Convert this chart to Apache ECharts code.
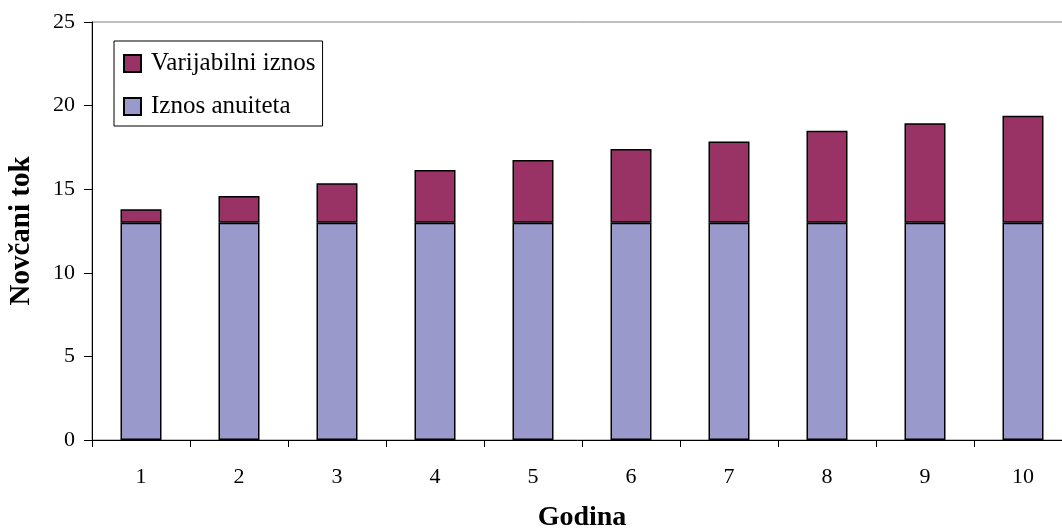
<!DOCTYPE html>
<html><head><meta charset="utf-8">
<script src="https://cdn.jsdelivr.net/npm/echarts@6/dist/echarts.min.js"></script>
<style>html,body{margin:0;padding:0;background:#fff}#c{width:1062px;height:531px}</style>
</head><body><div id="c"></div>
<script>
const years = ['1','2','3','4','5','6','7','8','9','10'];
const annuity = [13,13,13,13,13,13,13,13,13,13];
const variableAmt = [0.8,1.6,2.35,3.15,3.75,4.4,4.85,5.5,5.95,6.4];
const seriesNames = ['Varijabilni iznos','Iznos anuiteta'];
const yTicks = {min:0, max:25, interval:5};

const font = 'Liberation Serif, Times New Roman, serif';
const chart = echarts.init(document.getElementById('c'));
chart.setOption({
  animation:false,
  backgroundColor:'#fff',
  grid:{left:92, right:-10, top:22, bottom:91, outerBoundsMode:'none', containLabel:false,
        show:true, borderColor:'#808080', borderWidth:1, backgroundColor:'transparent'},
  legend:{
    data:[seriesNames[0], seriesNames[1]],
    orient:'vertical', left:114, top:41,
    backgroundColor:'#fff',
    borderColor:'#000', borderWidth:1,
    padding:[10,7,7,9],
    itemWidth:17, itemHeight:17, itemGap:18,
    icon:'rect',
    textStyle:{fontFamily:font, fontSize:25, color:'#000', padding:[0,0,0,5]}
  },
  xAxis:{
    type:'category', data:years,
    name:'Godina', nameLocation:'middle', nameGap:64,
    nameTextStyle:{fontFamily:font, fontSize:28, fontWeight:'bold', color:'#000'},
    axisLine:{lineStyle:{color:'#000', width:1}},
    axisTick:{show:true, length:7, lineStyle:{color:'#000'}},
    axisLabel:{fontFamily:font, fontSize:22, color:'#000', margin:26}
  },
  yAxis:{
    type:'value', min:yTicks.min, max:yTicks.max, interval:yTicks.interval,
    name:'Novčani tok', nameLocation:'middle', nameGap:56,
    nameTextStyle:{fontFamily:font, fontSize:29, fontWeight:'bold', color:'#000'},
    axisLine:{show:true, lineStyle:{color:'#000', width:1}},
    axisTick:{show:true, length:8, inside:false, lineStyle:{color:'#000'}},
    axisLabel:{fontFamily:font, fontSize:22, color:'#000', margin:17},
    splitLine:{show:false}
  },
  series:[
    {name:seriesNames[1], type:'bar', stack:'s', data:annuity, barWidth:41,
     itemStyle:{color:'#9999CC', borderColor:'#000', borderWidth:1.5}},
    {name:seriesNames[0], type:'bar', stack:'s', data:variableAmt, barWidth:41,
     itemStyle:{color:'#993366', borderColor:'#000', borderWidth:1.5}}
  ]
});
</script></body></html>
